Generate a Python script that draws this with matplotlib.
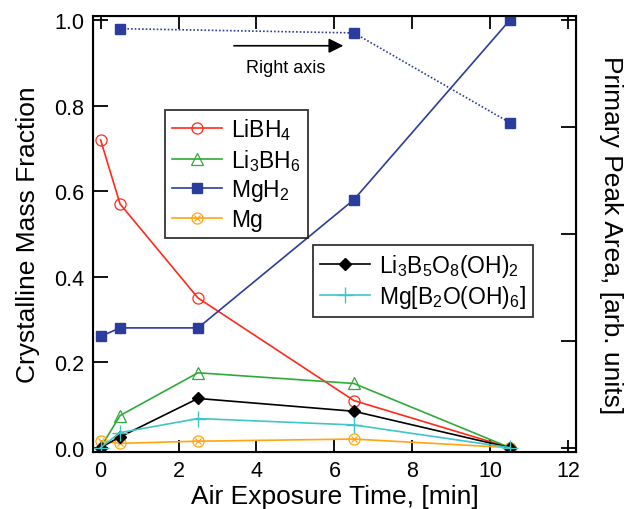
import numpy as np
import matplotlib
matplotlib.use("Agg")
import matplotlib.pyplot as plt
from matplotlib.legend_handler import HandlerTuple

plt.rcParams['font.family'] = ['Liberation Sans', 'DejaVu Sans']
plt.rcParams['mathtext.fontset'] = 'custom'
plt.rcParams['mathtext.rm'] = 'Liberation Sans'
plt.rcParams['mathtext.it'] = 'Liberation Sans'

# exposure times [min]
time_min = [0, 0.5, 2.5, 6.5, 10.5]
time_right = [0.5, 6.5, 10.5]

# crystalline mass fractions (left axis)
libh4 = [0.72, 0.57, 0.35, 0.11, 0.0]
li3bh6 = [0.0, 0.075, 0.175, 0.15, 0.0]
mgh2 = [0.26, 0.28, 0.28, 0.58, 1.0]
mg = [0.015, 0.01, 0.015, 0.02, 0.0]
li3b5o8 = [0.0, 0.025, 0.115, 0.085, 0.0]
mgb2o = [0.0, 0.035, 0.068, 0.053, 0.0]

# MgH2 primary peak area (right axis, normalised)
mgh2_peak = [0.98, 0.97, 0.76]

red = '#ff2a1a'
green = '#2faa3a'
blue = '#2b3d9c'
orange = '#ffa510'
cyan = '#3ec6c8'

fig = plt.figure(figsize=(6.31, 5.10), dpi=100)
ax = fig.add_axes([0.147, 0.112, 0.766, 0.855])

l1, = ax.plot(time_min, libh4, color=red, lw=1.2, marker='o', ms=8,
              mfc='none', mec=red, mew=0.9)
l2, = ax.plot(time_min, li3bh6, color=green, lw=1.2, marker='^', ms=8,
              mfc='none', mec=green, mew=0.9)
l3, = ax.plot(time_min, mgh2, color=blue, lw=1.2, marker='s', ms=7.5,
              mfc=blue, mec=blue)
l4, = ax.plot(time_min, mg, color=orange, lw=1.2, marker='o', ms=8,
              mfc='none', mec=orange, mew=0.9)
l4x, = ax.plot(time_min, mg, ls='none', marker='x', ms=4.5,
               mec=orange, mew=0.9)
l5, = ax.plot(time_min, li3b5o8, color='black', lw=1.2, marker='D', ms=6,
              mfc='black', mec='black')
l6, = ax.plot(time_min, mgb2o, color=cyan, lw=1.2, marker='+', ms=11,
              mew=1.0)

ax.set_xlim(-0.2, 12.2)
ax.set_ylim(-0.01, 1.01)
ax.set_xticks(np.arange(0, 13, 2))
ax.set_yticks(np.arange(0, 1.01, 0.2))
ax.set_yticklabels(['0.0', '0.2', '0.4', '0.6', '0.8', '1.0'])
ax.tick_params(direction='in', top=True, labelsize=15.5, width=1.3, pad=6)
ax.tick_params(axis='y', length=11)
ax.tick_params(axis='x', length=9)
for s in ax.spines.values():
    s.set_linewidth(1.5)

ax.set_xlabel('Air Exposure Time, [min]', fontsize=19, labelpad=2)
ax.set_ylabel('Crystalline Mass Fraction', fontsize=19, labelpad=10)

ax2 = ax.twinx()
ax2.plot(time_right, mgh2_peak, color=blue, lw=1.2, ls=(0, (1, 1.2)),
         marker='s', ms=7.5, mfc=blue, mec=blue)
ax2.set_ylim(-0.01, 1.01)
ax2.set_yticks([0, 0.25, 0.5, 0.75, 1.0])
ax2.set_yticklabels([])
ax2.tick_params(direction='in', length=11, width=1.3)
ax2.set_ylabel('Primary Peak Area, [arb. units]', fontsize=19,
               rotation=270, labelpad=30)

ax.annotate('', xy=(6.3, 0.94), xytext=(3.35, 0.94),
            arrowprops=dict(arrowstyle='-|>', color='black', lw=1.2,
                            mutation_scale=22))
ax.text(4.75, 0.888, 'Right axis', fontsize=13, ha='center', va='center')

leg_kw = dict(loc='upper left', fontsize=16.5, frameon=True, fancybox=False,
              edgecolor='black', handlelength=2.2, handletextpad=0.4,
              borderpad=0.3, labelspacing=0.2, borderaxespad=0)
leg1 = ax.legend(handles=[l1, l2, l3, (l4, l4x)],
                 labels=[r'LiBH$_4$', r'Li$_3$BH$_6$', r'MgH$_2$', 'Mg'],
                 handler_map={tuple: HandlerTuple(ndivide=1)},
                 bbox_to_anchor=(0.149, 0.785), **leg_kw)
leg1.get_frame().set_linewidth(1.3)
ax.add_artist(leg1)
leg2 = ax.legend(handles=[l5, l6],
                 labels=[r'Li$_3$B$_5$O$_8$(OH)$_2$', r'Mg[B$_2$O(OH)$_6$]'],
                 bbox_to_anchor=(0.455, 0.475), **leg_kw)
leg2.get_frame().set_linewidth(1.3)

fig.savefig('out.png', dpi=100)
